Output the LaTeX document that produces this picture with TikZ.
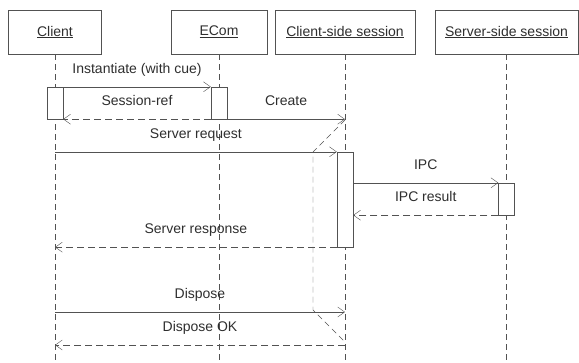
\documentclass[tikz,border=0pt]{standalone}
\usepackage{fontspec}
\setmainfont{Liberation Sans}
\usetikzlibrary{arrows.meta}
\colorlet{lineGray}{black!68}
\colorlet{textGray}{black!82}
\tikzset{
  head/.style={draw=lineGray,minimum width=#1,minimum height=44pt,inner sep=0pt,text=textGray},
  lifeline/.style={draw=lineGray,dash pattern=on 6pt off 4pt},
  act/.style={draw=lineGray,fill=white,minimum width=16pt,minimum height=#1,inner sep=0pt},
  msg/.style={draw=lineGray,-{Straight Barb[length=7pt,width=10pt]}},
  reply/.style={msg,dash pattern=on 7pt off 4pt},
  lbl/.style={above=8.5pt,text=textGray,inner sep=2pt,text height=10pt,text depth=3pt}
}
\NewDocumentCommand\DrawMsg{O{msg}mmm}%
{%
\draw[#1] (#2) -- node[lbl] {#4} (#3);%
}

\begin{document}
\begin{tikzpicture}[x=1pt,y=-1pt,font=\fontsize{14}{16}\selectfont]
\useasboundingbox (0,0) rectangle (579,362);
\node[head=93pt] (client) at (55,32) {\underline{Client}};
\node[head=96pt] (ecom) at (219,32) {\underline{ECom}};
\node[head=140pt] (css) at (345,32) {\underline{Client-side session}};
\node[head=143pt] (sss) at (506.5,32) {\underline{Server-side session}};
\coordinate (clientEnd) at (client.south |- 0,362);
\coordinate (ecomEnd) at (ecom.south |- 0,362);
\coordinate (cssEnd) at (css.south |- 0,362);
\coordinate (sssEnd) at (sss.south |- 0,362);
\draw[lifeline] (client.south) -- (clientEnd);
\draw[lifeline] (ecom.south) -- (ecomEnd);
\draw[lifeline] (css.south) -- (cssEnd);
\draw[lifeline] (sss.south) -- (sssEnd);
% ghost outline of the session
\draw[lifeline] (css.south |- 0,120) -- ++(-32,32) -- ++(0,158) -- ++(32,32);
\node[act=32pt] (actClient) at (client.south |- 0,103) {};
\node[act=32pt] (actEcom) at (ecom.south |- 0,103) {};
\node[act=95pt] (actCss) at (css.south |- 0,199.5) {};
\node[act=32pt] (actSss) at (sss.south |- 0,199) {};
\coordinate (disposeAt) at (client.south |- 0,312);
\coordinate (disposeOkAt) at (css.south |- 0,345);
\DrawMsg{actClient.north east}{actEcom.north west}{Instantiate (with cue)}
\DrawMsg[reply]{actEcom.south west}{actClient.south east}{Session-ref}
\DrawMsg{actEcom.south east}{css.south |- actEcom.south}{Create}
\DrawMsg{client.south |- actCss.north}{actCss.north west}{Server request}
\DrawMsg{actCss.east |- actSss.north}{actSss.north west}{IPC}
\DrawMsg[reply]{actSss.south west}{actCss.east |- actSss.south}{IPC result}
\DrawMsg[reply]{actCss.south west}{client.south |- actCss.south}{Server response}
\DrawMsg{disposeAt}{css.south |- disposeAt}{Dispose}
\DrawMsg[reply]{disposeOkAt}{client.south |- disposeOkAt}{Dispose OK}
\end{tikzpicture}
\end{document}
